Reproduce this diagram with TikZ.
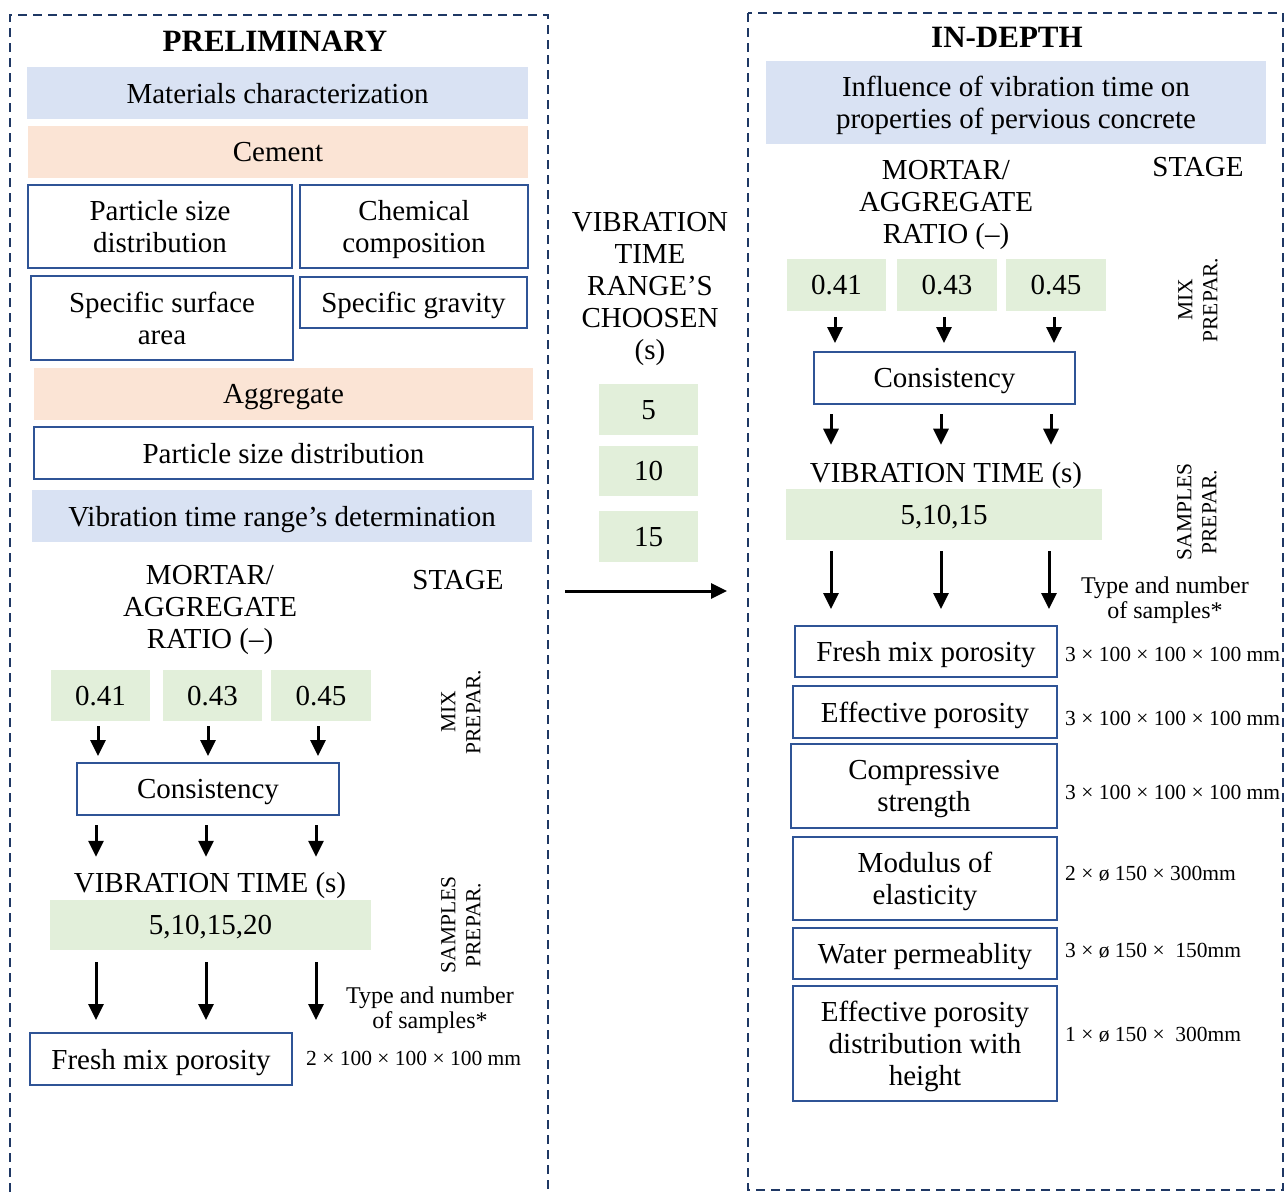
\documentclass[tikz,border=0pt]{standalone}
\usepackage{fontspec}
\setmainfont{Liberation Serif}
\usetikzlibrary{arrows.meta}
\definecolor{framenavy}{HTML}{1F3864}
\definecolor{boxblue}{HTML}{2F5496}
\definecolor{barblue}{HTML}{D9E2F3}
\definecolor{barpeach}{HTML}{FBE4D5}
\definecolor{bargreen}{HTML}{E2EFDA}
\newcommand{\bigtxt}{\fontsize{29}{32}\selectfont}
\newcommand{\smalltxt}{\fontsize{21.5}{25}\selectfont}
\newcommand{\typetxt}{\fontsize{24}{25}\selectfont}
\newcommand{\headtxt}{\fontsize{31}{36}\selectfont\bfseries}

\begin{document}
\begin{tikzpicture}[x=1pt, y=-1pt,
    txt/.style ={font=\bigtxt, align=center, inner sep=0pt, text depth=0pt},
    bluebar/.style ={txt, fill=barblue, minimum height=52},
    peachbar/.style ={txt, fill=barpeach, minimum height=52},
    greenbar/.style ={txt, fill=bargreen, minimum height=51},
    outbox/.style ={txt, draw=boxblue, line width=2pt, minimum height=52},
    dimtxt/.style ={font=\smalltxt, anchor=west, inner sep=0pt},
    typelbl/.style ={font=\typetxt, align=center, inner sep=0pt, text depth=0pt},
    stagelbl/.style ={font=\smalltxt, align=center, inner sep=0pt, rotate=90},
    frame/.style ={draw=framenavy, line width=2.5pt, dash pattern=on 9pt off 6pt},
    arr/.style ={line width=3pt, -{Triangle[width=15pt,length=16pt]}}]
   \useasboundingbox (0,0) rectangle (1287,1192);
   \draw[frame] (10,1192) -- (10,15) -- (548,15) -- (548,1192);
   \draw[frame] (748,13) rectangle (1283,1190);

   \node[font=\headtxt, inner sep=0pt] (prelim) at (275,41) {PRELIMINARY};
   \node[bluebar, minimum width=501] (matchar) at (277.5,93) {Materials characterization};
   \node[peachbar, minimum width=500] (cement) at (278,152) {Cement};
   \node[outbox, minimum width=264, minimum height=83] (cpsd) at (160,226.5) {Particle size\\distribution};
   \node[outbox, minimum width=228, minimum height=83] (chem) at (414,226.5) {Chemical\\composition};
   \node[outbox, minimum width=262, minimum height=84] (ssa) at (162,318) {Specific surface\\area};
   \node[outbox, minimum width=227, minimum height=51] (sgrav) at (413.5,302.5) {Specific gravity};
   \node[peachbar, minimum width=499] (aggr) at (283.5,394) {Aggregate};
   \node[outbox, minimum width=499] (apsd) at (283.5,453) {Particle size distribution};
   \node[bluebar, minimum width=500] (vtrd) at (282,516) {Vibration time range’s determination};
   \node[txt] (ratioL) at (210,607) {MORTAR/\\AGGREGATE\\RATIO (–)};
   \node[txt] (stageL) at (458,580) {STAGE};
   \node[greenbar, minimum width=99] (rL1) at (100.5,695.5) {0.41};
   \node[greenbar, minimum width=99] (rL2) at (212.5,695.5) {0.43};
   \node[greenbar, minimum width=100] (rL3) at (321,695.5) {0.45};
   \node[outbox, minimum width=262] (consL) at (208,789) {Consistency};
   \node[txt] (vtL) at (210,882) {VIBRATION TIME (s)};
   \node[greenbar, minimum width=321, minimum height=50] (timesL) at (210.5,925) {5,10,15,20};
   \node[typelbl] (typeL) at (430,1008) {Type and number\\of samples*};
   \node[outbox, minimum width=262] (freshL) at (161,1059) {Fresh mix porosity};
   \node[dimtxt] (dimL) at (306,1058) {2 × 100 × 100 × 100 mm};
   \node[stagelbl] (mixL) at (461,712) {MIX\\PREPAR.};
   \node[stagelbl] (sampL) at (461,925) {SAMPLES\\PREPAR.};

   \draw[arr, shorten <=5pt, shorten >=6pt] ([xshift=-2.5pt]rL1.south) -- ([xshift=-2.5pt]rL1.south |- consL.north);
   \draw[arr, shorten <=5pt, shorten >=6pt] ([xshift=-4.5pt]rL2.south) -- ([xshift=-4.5pt]rL2.south |- consL.north);
   \draw[arr, shorten <=5pt, shorten >=6pt] ([xshift=-3pt]rL3.south) -- ([xshift=-3pt]rL3.south |- consL.north);
   \draw[arr, shorten <=9pt, shorten >=15pt] ([xshift=-4.5pt]consL.south -| rL1) -- ([xshift=-4.5pt]vtL.north -| rL1);
   \draw[arr, shorten <=9pt, shorten >=15pt] ([xshift=-6.5pt]consL.south -| rL2) -- ([xshift=-6.5pt]vtL.north -| rL2);
   \draw[arr, shorten <=9pt, shorten >=15pt] ([xshift=-5pt]consL.south -| rL3) -- ([xshift=-5pt]vtL.north -| rL3);
   \draw[arr, shorten <=12pt, shorten >=12pt] ([xshift=-4.5pt]timesL.south -| rL1) -- ([xshift=-4.5pt]freshL.north -| rL1);
   \draw[arr, shorten <=12pt, shorten >=12pt] ([xshift=-6.5pt]timesL.south -| rL2) -- ([xshift=-6.5pt]freshL.north -| rL2);
   \draw[arr, shorten <=12pt, shorten >=12pt] ([xshift=-5pt]timesL.south -| rL3) -- ([xshift=-5pt]freshL.north -| rL3);

   \node[txt] (vtrc) at (650,286) {VIBRATION\\TIME\\RANGE’S\\CHOOSEN\\(s)};
   \node[greenbar, minimum width=99] (ch5) at (648.5,409.5) {5};
   \node[greenbar, minimum width=99, minimum height=50] (ch10) at (648.5,471) {10};
   \node[greenbar, minimum width=99] (ch15) at (648.5,536.5) {15};
   \coordinate (linkA) at (565,591);
   \coordinate (linkB) at (727,591);
   \draw[arr] (linkA) -- (linkB);

   \node[font=\headtxt, inner sep=0pt] (indepth) at (1007,37) {IN-DEPTH};
   \node[bluebar, minimum width=500, minimum height=83] (infl) at (1016,102.5) {Influence of vibration time on\\properties of pervious concrete};
   \node[txt] (ratioR) at (946,202) {MORTAR/\\AGGREGATE\\RATIO (–)};
   \node[txt] (stageR) at (1198,167) {STAGE};
   \node[greenbar, minimum width=99, minimum height=52] (rR1) at (836.5,285) {0.41};
   \node[greenbar, minimum width=100, minimum height=52] (rR2) at (947,285) {0.43};
   \node[greenbar, minimum width=100, minimum height=52] (rR3) at (1056,285) {0.45};
   \node[outbox, minimum width=261] (consR) at (944.5,378) {Consistency};
   \node[txt] (vtR) at (946,472) {VIBRATION TIME (s)};
   \node[greenbar, minimum width=316] (timesR) at (944,514.5) {5,10,15};
   \node[typelbl] (typeR) at (1165,598) {Type and number\\of samples*};
   \node[stagelbl] (mixR) at (1198,300) {MIX\\PREPAR.};
   \node[stagelbl] (sampR) at (1197,512) {SAMPLES\\PREPAR.};
   \node[outbox, minimum width=262, minimum height=51] (freshR) at (926,651.5) {Fresh mix porosity};
   \node[outbox, minimum width=264] (effpor) at (925,712) {Effective porosity};
   \node[outbox, minimum width=266, minimum height=84] (compr) at (924,786) {Compressive\\strength};
   \node[outbox, minimum width=264, minimum height=83] (modul) at (925,878.5) {Modulus of\\elasticity};
   \node[outbox, minimum width=264, minimum height=51] (waterp) at (925,953.5) {Water permeablity};
   \node[outbox, minimum width=264, minimum height=115] (effdist) at (925,1043.5) {Effective porosity\\distribution with\\height};
   \node[dimtxt] (dimR1) at (1065,654) {3 × 100 × 100 × 100 mm};
   \node[dimtxt] (dimR2) at (1065,718) {3 × 100 × 100 × 100 mm};
   \node[dimtxt] (dimR3) at (1065,792) {3 × 100 × 100 × 100 mm};
   \node[dimtxt] (dimR4) at (1065,874) {2 × ø 150 × 300mm};
   \node[dimtxt] (dimR5) at (1065,951) {3 × ø 150 ×~ 150mm};
   \node[dimtxt] (dimR6) at (1065,1035) {1 × ø 150 ×~ 300mm};

   \draw[arr, shorten <=6pt, shorten >=8pt] ([xshift=-1.5pt]rR1.south) -- ([xshift=-1.5pt]rR1.south |- consR.north);
   \draw[arr, shorten <=6pt, shorten >=8pt] ([xshift=-3pt]rR2.south) -- ([xshift=-3pt]rR2.south |- consR.north);
   \draw[arr, shorten <=6pt, shorten >=8pt] ([xshift=-2pt]rR3.south) -- ([xshift=-2pt]rR3.south |- consR.north);
   \draw[arr, shorten <=9pt, shorten >=17pt] ([xshift=-5.5pt]consR.south -| rR1) -- ([xshift=-5.5pt]vtR.north -| rR1);
   \draw[arr, shorten <=9pt, shorten >=17pt] ([xshift=-6pt]consR.south -| rR2) -- ([xshift=-6pt]vtR.north -| rR2);
   \draw[arr, shorten <=9pt, shorten >=17pt] ([xshift=-5pt]consR.south -| rR3) -- ([xshift=-5pt]vtR.north -| rR3);
   \draw[arr, shorten <=11pt, shorten >=16pt] ([xshift=-5.5pt]timesR.south -| rR1) -- ([xshift=-5.5pt]freshR.north -| rR1);
   \draw[arr, shorten <=11pt, shorten >=16pt] ([xshift=-6pt]timesR.south -| rR2) -- ([xshift=-6pt]freshR.north -| rR2);
   \draw[arr, shorten <=11pt, shorten >=16pt] ([xshift=-7pt]timesR.south -| rR3) -- ([xshift=-7pt]freshR.north -| rR3);
\end{tikzpicture}
\end{document}
